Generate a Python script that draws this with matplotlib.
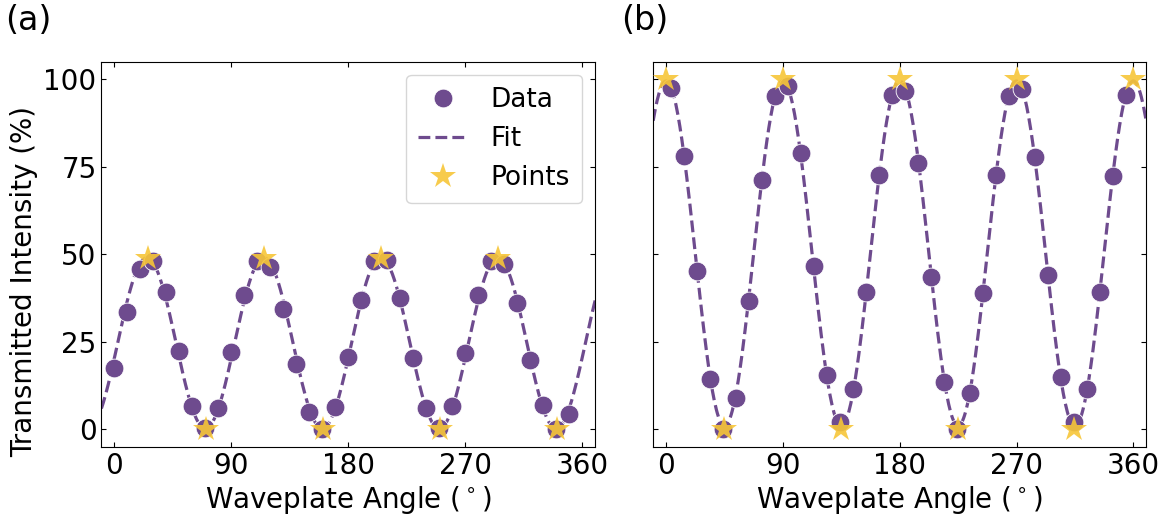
import numpy as np
import matplotlib
matplotlib.use('Agg')
import matplotlib.pyplot as plt

purple = '#6E4B8E'
gold = '#F7C638'

# panel (a): data taken every 10 deg
angle_a = np.arange(0, 360, 10)
inten_a = [17.6, 33.5, 45.9, 48.1, 39.2, 22.4, 6.6, 0.3, 6.0, 22.2,
           38.5, 48.1, 46.4, 34.5, 18.6, 5.1, 0.2, 6.4, 20.6, 36.9,
           48.0, 48.3, 37.7, 20.3, 6.0, 0.3, 6.7, 21.8, 38.5, 48.1,
           47.4, 36.2, 19.8, 7.0, 0.0, 4.5]
star_x_a = [25.5, 70.5, 115.5, 160.5, 205.5, 250.5, 295.5, 340.5]
star_y_a = [49.0, 0.0, 49.0, 0.0, 49.0, 0.0, 49.0, 0.0]

# panel (b)
angle_b = np.arange(4, 360, 10)
inten_b = [97.7, 78.1, 45.3, 14.4, 0.2, 8.9, 36.8, 71.2, 95.2, 98.0,
           79.0, 46.6, 15.7, 2.2, 11.5, 39.3, 72.7, 95.5, 96.8, 76.1,
           43.7, 13.5, 0.2, 10.3, 39.1, 72.8, 95.2, 97.2, 77.8, 44.2,
           15.1, 2.1, 11.7, 39.2, 72.4, 95.7]
star_x_b = [0, 44.5, 90, 134.5, 180, 224.5, 270, 314.5, 360]
star_y_b = [100, 0, 100, 0, 100, 0, 100, 0, 100]


def fit_malus(x, y):
    # least squares on I = c0 + c1 cos(4t) + c2 sin(4t)
    t = np.radians(np.asarray(x, dtype=float))
    A = np.column_stack([np.ones_like(t), np.cos(4 * t), np.sin(4 * t)])
    coef, *_ = np.linalg.lstsq(A, np.asarray(y), rcond=None)
    xf = np.linspace(-10, 370, 500)
    tf = np.radians(xf)
    yf = coef[0] + coef[1] * np.cos(4 * tf) + coef[2] * np.sin(4 * tf)
    return xf, yf


plt.rcParams['font.family'] = 'DejaVu Sans'
plt.rcParams['font.size'] = 20

fig = plt.figure(figsize=(11.75, 5.2), dpi=100)
ax1 = fig.add_axes([0.0863, 0.1404, 0.4202, 0.7404])
ax2 = fig.add_axes([0.5559, 0.1404, 0.4197, 0.7404])

panels = [(ax1, angle_a, inten_a, star_x_a, star_y_a, '(a)', 5),
          (ax2, angle_b, inten_b, star_x_b, star_y_b, '(b)', 621)]

for ax, x, y, sx, sy, lab, lx in panels:
    xf, yf = fit_malus(x, y)
    ax.plot(x, y, 'o', color=purple, ms=13.5, mec='white', mew=0.6,
            label='Data', zorder=3)
    ax.plot(xf, yf, '--', color=purple, lw=2.3, label='Fit', zorder=2)
    ax.plot(sx, sy, '*', color=gold, ms=19, alpha=0.9, mew=0,
            label='Points', zorder=4)
    ax.set_xlim(-10, 370)
    ax.set_ylim(-5, 105)
    ax.set_xticks([0, 90, 180, 270, 360])
    ax.set_yticks([0, 25, 50, 75, 100])
    ax.tick_params(direction='in', top=True, right=True, labelsize=20)
    ax.set_xlabel('Waveplate Angle ($^\\circ$)', fontsize=20, labelpad=3)
    fig.text(lx / 1175, 1 - 4 / 520, lab, fontsize=24, va='top', ha='left')

ax1.set_ylabel('Transmitted Intensity (%)', fontsize=20)
ax1.yaxis.set_label_coords(-0.128, 0.43)
ax2.tick_params(labelleft=False)
ax1.legend(loc='upper right', fontsize=19, handlelength=1.9,
           handletextpad=0.85, labelspacing=0.5, borderpad=0.45)

fig.savefig('out.png', dpi=100)
